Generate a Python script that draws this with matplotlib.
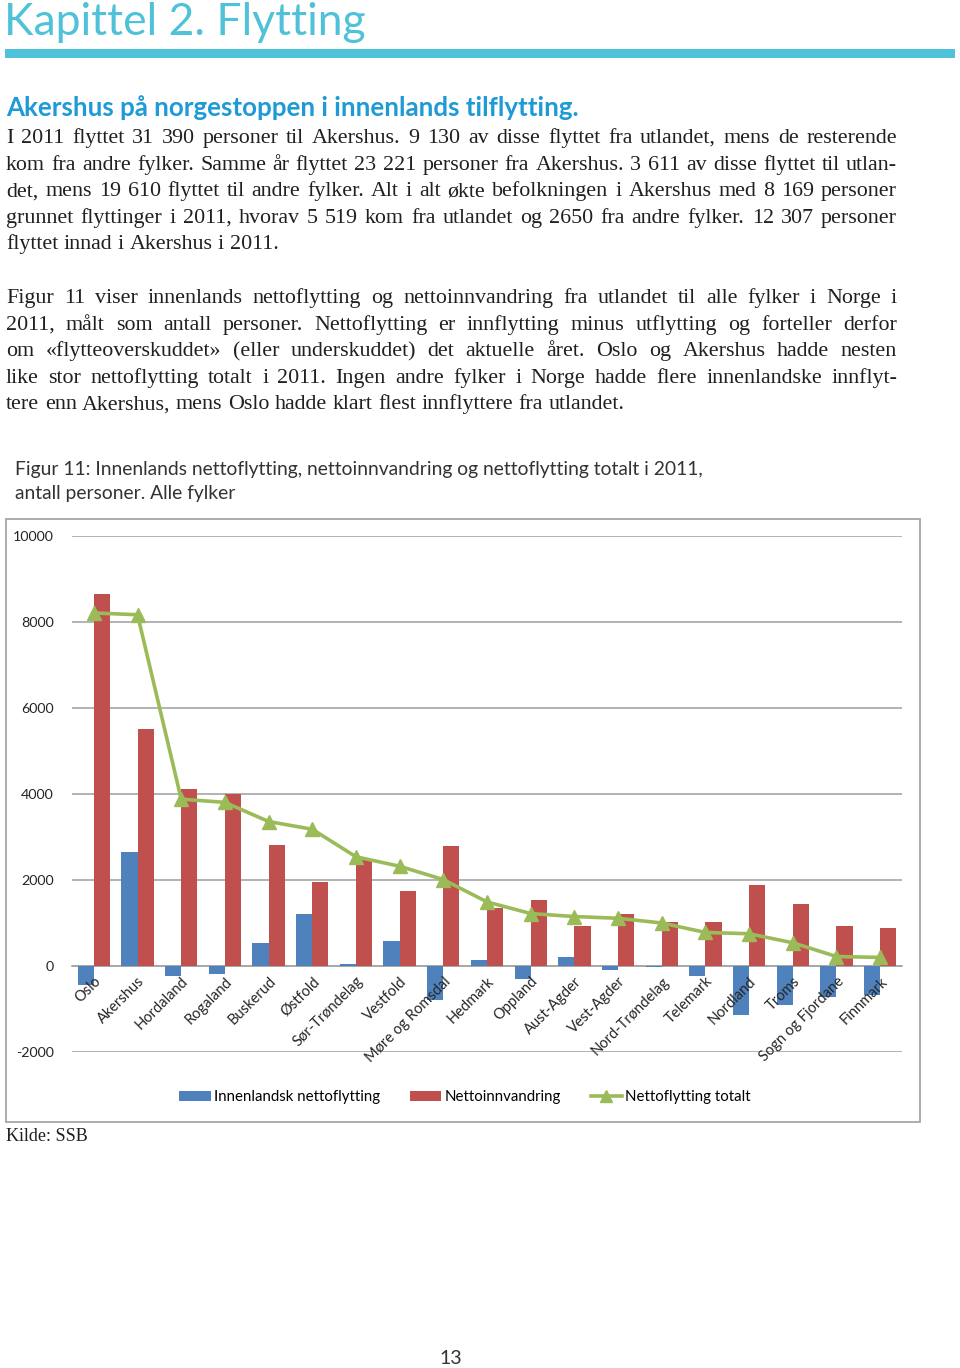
import matplotlib
matplotlib.use("Agg")
import matplotlib.pyplot as plt
import numpy as np
from matplotlib.patches import Rectangle, Patch
from matplotlib.lines import Line2D

# ---------------- data ----------------
fylker = ["Oslo", "Akershus", "Hordaland", "Rogaland", "Buskerud", "Østfold",
          "Sør-Trøndelag", "Vestfold", "Møre og Romsdal", "Hedmark", "Oppland",
          "Aust-Agder", "Vest-Agder", "Nord-Trøndelag", "Telemark", "Nordland",
          "Troms", "Sogn og Fjordane", "Finnmark"]
innenlandsk = [-440, 2650, -240, -185, 540, 1220, 40, 570, -790, 150, -310,
               210, -100, -20, -240, -1140, -900, -710, -680]
innvandring = [8650, 5519, 4120, 3990, 2820, 1960, 2500, 1750, 2800, 1340, 1530,
               940, 1210, 1020, 1020, 1890, 1440, 930, 880]
totalt = [8210, 8169, 3880, 3805, 3360, 3180, 2540, 2320, 2010, 1490, 1220,
          1150, 1110, 1000, 780, 750, 540, 220, 200]
yticks = [-2000, 0, 2000, 4000, 6000, 8000, 10000]
legend_labels = ["Innenlandsk nettoflytting", "Nettoinnvandring", "Nettoflytting totalt"]

W, H = 960, 1368
BLUE = "#4F81BD"
RED = "#C0504D"
GREEN = "#9BBB59"
CYAN = "#4FC1D8"
HEADBLUE = "#1E9AD6"
TEXT = "#231F20"

fig = plt.figure(figsize=(W / 100, H / 100), dpi=100)


def fx(x):
    return x / W


def fy(y):
    return 1 - y / H


SANS = ["Lato", "DejaVu Sans"]
SERIF = ["Liberation Serif", "DejaVu Serif"]

# ---------------- page header ----------------
fig.text(fx(4), fy(35), "Kapittel 2. Flytting", fontsize=32, color=CYAN,
         family=SANS, va="baseline", ha="left")
fig.add_artist(Rectangle((fx(5), fy(58)), fx(950), 9 / H, transform=fig.transFigure,
                         facecolor=CYAN, edgecolor="none"))
fig.text(fx(6), fy(116), "Akershus på norgestoppen i innenlands tilflytting.",
         fontsize=18.6, color=HEADBLUE, family=SANS, weight="bold",
         va="baseline", ha="left")

renderer = fig.canvas.get_renderer()
BODY = 15.8


def word_space(size):
    a = fig.text(0, 0, "a a", fontsize=size, family=SERIF)
    b = fig.text(0, 0, "aa", fontsize=size, family=SERIF)
    w = a.get_window_extent(renderer).width - b.get_window_extent(renderer).width
    a.remove()
    b.remove()
    return w


def justify(line, y, x0=6, x1=897, last=False, size=BODY):
    words = line.split(" ")
    texts = [fig.text(0, fy(y), w, fontsize=size, family=SERIF, color=TEXT,
                      va="baseline", ha="left") for w in words]
    widths = [t.get_window_extent(renderer).width for t in texts]
    if last or len(words) == 1:
        gap = word_space(size)
    else:
        gap = (x1 - x0 - sum(widths)) / (len(words) - 1)
    x = x0
    for t, w in zip(texts, widths):
        t.set_x(fx(x))
        x += w + gap


para1 = ["I 2011 flyttet 31 390 personer til Akershus. 9 130 av disse flyttet fra utlandet, mens de resterende",
         "kom fra andre fylker. Samme år flyttet 23 221 personer fra Akershus. 3 611 av disse flyttet til utlan-",
         "det, mens 19 610 flyttet til andre fylker. Alt i alt økte befolkningen i Akershus med 8 169 personer",
         "grunnet flyttinger i 2011, hvorav 5 519 kom fra utlandet og 2650 fra andre fylker. 12 307 personer",
         "flyttet innad i Akershus i 2011."]
para2 = ["Figur 11 viser innenlands nettoflytting og nettoinnvandring fra utlandet til alle fylker i Norge i",
         "2011, målt som antall personer. Nettoflytting er innflytting minus utflytting og forteller derfor",
         "om «flytteoverskuddet» (eller underskuddet) det aktuelle året. Oslo og Akershus hadde nesten",
         "like stor nettoflytting totalt i 2011. Ingen andre fylker i Norge hadde flere innenlandske innflyt-",
         "tere enn Akershus, mens Oslo hadde klart flest innflyttere fra utlandet."]
for i, ln in enumerate(para1):
    justify(ln, 143 + i * 26.6, last=(i == len(para1) - 1))
for i, ln in enumerate(para2):
    justify(ln, 303 + i * 26.6, last=(i == len(para2) - 1))

fig.text(fx(15), fy(475), "Figur 11: Innenlands nettoflytting, nettoinnvandring og nettoflytting totalt i 2011,",
         fontsize=13.9, family=SANS, weight="normal", color="#333333", va="baseline")
fig.text(fx(15), fy(499), "antall personer. Alle fylker",
         fontsize=13.9, family=SANS, weight="normal", color="#333333", va="baseline")

# ---------------- chart box ----------------
fig.add_artist(Rectangle((fx(6), fy(1122)), fx(914), (1122 - 519) / H,
                         transform=fig.transFigure, facecolor="none",
                         edgecolor="#A6A6A6", lw=1.3))

ax = fig.add_axes([fx(72), fy(1052), fx(902 - 72), (1052 - 536) / H])
x = np.arange(len(fylker))
bw = 0.37
ax.bar(x - bw / 2, innenlandsk, width=bw, color=BLUE, zorder=3)
ax.bar(x + bw / 2, innvandring, width=bw, color=RED, zorder=3)
ax.plot(x, totalt, color=GREEN, lw=2.6, marker="^", markersize=10, zorder=4)

ax.set_xlim(-0.5, len(fylker) - 0.5)
ax.set_ylim(-2000, 10000)
ax.set_yticks(yticks)
ax.set_yticklabels([str(v) for v in yticks], family=SANS, fontsize=10.3, color="#262626")
ax.tick_params(axis="y", length=0, pad=13)
ax.yaxis.grid(True, color="#A6A6A6", lw=1.2, zorder=0)
ax.set_axisbelow(True)
for s in ["left", "right", "top"]:
    ax.spines[s].set_visible(False)
ax.spines["bottom"].set_position(("data", 0))
ax.spines["bottom"].set_color("#A6A6A6")
ax.spines["bottom"].set_linewidth(1.2)
ax.spines["bottom"].set_zorder(2)
ax.set_xticks(x)
ax.set_xticklabels(fylker, rotation=45, ha="right", rotation_mode="anchor",
                   family=SANS, fontsize=10.5, color="#262626")
ax.tick_params(axis="x", length=0, pad=6)
ax.xaxis.set_zorder(6)
ax.patch.set_alpha(0)

handles = [Patch(facecolor=BLUE), Patch(facecolor=RED),
           Line2D([], [], color=GREEN, lw=2.6, marker="^", markersize=9)]
fig.legend(handles, legend_labels, loc="center", bbox_to_anchor=(fx(465), fy(1097)),
           ncol=3, frameon=False, prop={"family": SANS, "size": 10.8},
           handlelength=2.1, handleheight=0.7, handletextpad=0.2, columnspacing=2.0)

fig.text(fx(6), fy(1141), "Kilde: SSB", fontsize=13, family=SERIF, color=TEXT, va="baseline")
fig.text(fx(451), fy(1364), "13", fontsize=14, family=SANS, weight="normal", color="#333333",
         va="baseline", ha="center")

fig.savefig("out.png", dpi=100)
